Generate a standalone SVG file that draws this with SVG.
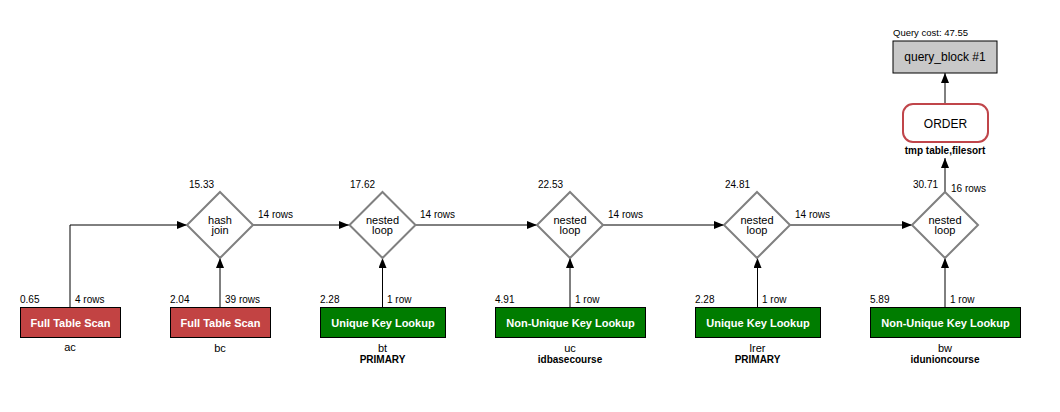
<svg xmlns="http://www.w3.org/2000/svg" width="1060" height="412" viewBox="0 0 1060 412">
<style>
text{font-family:"Liberation Sans",Arial,sans-serif;fill:#000}
.s{font-size:10px}
.sb{font-size:10px;font-weight:bold}
.c{text-anchor:middle}
.bt{font-size:11px;font-weight:bold;fill:#fff;text-anchor:middle}
.dt{font-size:11px;text-anchor:middle}
.red{fill:#c24343;stroke:#000;stroke-width:1}
.grn{fill:#007c00;stroke:#000;stroke-width:1}
.dia{fill:#fff;stroke:#808080;stroke-width:2}
.ln{fill:none;stroke:#000;stroke-width:1}
</style>
<defs>
<marker id="ah" viewBox="0 0 10 8" refX="10" refY="4" markerWidth="10" markerHeight="8" markerUnits="userSpaceOnUse" orient="auto">
<path d="M0,0 L10,4 L0,8 z" fill="#000"/>
</marker>
</defs>
<g id="connectors">
<polyline class="ln" points="70,307 70,225 187,225" marker-end="url(#ah)"/>
<line class="ln" x1="220" y1="307" x2="220" y2="258" marker-end="url(#ah)"/>
<line class="ln" x1="253" y1="225" x2="349" y2="225" marker-end="url(#ah)"/>
<line class="ln" x1="382.5" y1="307" x2="382.5" y2="258" marker-end="url(#ah)"/>
<line class="ln" x1="415" y1="225" x2="537" y2="225" marker-end="url(#ah)"/>
<line class="ln" x1="570" y1="307" x2="570" y2="258" marker-end="url(#ah)"/>
<line class="ln" x1="603" y1="225" x2="724" y2="225" marker-end="url(#ah)"/>
<line class="ln" x1="757.5" y1="307" x2="757.5" y2="258" marker-end="url(#ah)"/>
<line class="ln" x1="790" y1="225" x2="912" y2="225" marker-end="url(#ah)"/>
<line class="ln" x1="945" y1="307" x2="945" y2="258" marker-end="url(#ah)"/>
<line class="ln" x1="945" y1="192" x2="945" y2="158" marker-end="url(#ah)"/>
<line class="ln" x1="945" y1="104" x2="945" y2="73" marker-end="url(#ah)"/>
<text class="s" x="75" y="303">4 rows</text>
<text class="s" x="225" y="303">39 rows</text>
<text class="s" x="387" y="303">1 row</text>
<text class="s" x="575" y="303">1 row</text>
<text class="s" x="762" y="303">1 row</text>
<text class="s" x="950" y="303">1 row</text>
<text class="s" x="258" y="218">14 rows</text>
<text class="s" x="420" y="218">14 rows</text>
<text class="s" x="608" y="218">14 rows</text>
<text class="s" x="795" y="218">14 rows</text>
<text class="s" x="951" y="192">16 rows</text>
</g>
<g id="query_block">
<text class="s" x="893" y="36" style="font-size:9.5px">Query cost: 47.55</text>
<rect x="893" y="41" width="104" height="32" fill="#c8c8c8" stroke="#000" stroke-width="1"/>
<text class="c" x="945" y="61" style="font-size:12px">query_block #1</text>
</g>
<g id="order">
<rect x="903" y="104" width="85" height="38" rx="10" ry="10" fill="#fff" stroke="#c0454a" stroke-width="2"/>
<text class="c" x="945.5" y="128" style="font-size:12px">ORDER</text>
<text class="sb c" x="945" y="154">tmp table,filesort</text>
</g>
<g id="hash_join">
<text class="s" x="189" y="188">15.33</text>
<polygon class="dia" points="220,192 253,225 220,258 187,225"/>
<text class="dt" x="220" y="224">hash</text>
<text class="dt" x="220" y="234">join</text>
</g>
<g id="nested_loop_1">
<text class="s" x="350" y="188">17.62</text>
<polygon class="dia" points="382.5,192 415.5,225 382.5,258 349.5,225"/>
<text class="dt" x="382.5" y="224">nested</text>
<text class="dt" x="382.5" y="234">loop</text>
</g>
<g id="nested_loop_2">
<text class="s" x="538" y="188">22.53</text>
<polygon class="dia" points="570,192 603,225 570,258 537,225"/>
<text class="dt" x="570" y="224">nested</text>
<text class="dt" x="570" y="234">loop</text>
</g>
<g id="nested_loop_3">
<text class="s" x="725" y="188">24.81</text>
<polygon class="dia" points="757,192 790,225 757,258 724,225"/>
<text class="dt" x="757" y="224">nested</text>
<text class="dt" x="757" y="234">loop</text>
</g>
<g id="nested_loop_4">
<text class="s" x="913" y="188">30.71</text>
<polygon class="dia" points="945,192 978,225 945,258 912,225"/>
<text class="dt" x="945" y="224">nested</text>
<text class="dt" x="945" y="234">loop</text>
</g>
<g id="table_ac">
<text class="s" x="20" y="303">0.65</text>
<rect class="red" x="20.5" y="307.5" width="100" height="30"/>
<text class="bt" x="70.5" y="326.5">Full Table Scan</text>
<text class="s c" x="70" y="351" style="font-size:11px">ac</text>
</g>
<g id="table_bc">
<text class="s" x="170" y="303">2.04</text>
<rect class="red" x="170.5" y="307.5" width="100" height="30"/>
<text class="bt" x="220.5" y="326.5">Full Table Scan</text>
<text class="s c" x="220" y="352" style="font-size:11px">bc</text>
</g>
<g id="table_bt">
<text class="s" x="320" y="303">2.28</text>
<rect class="grn" x="320.5" y="307.5" width="125" height="30"/>
<text class="bt" x="383" y="326.5">Unique Key Lookup</text>
<text class="s c" x="382.5" y="352" style="font-size:11px">bt</text>
<text class="sb c" x="382.5" y="363">PRIMARY</text>
</g>
<g id="table_uc">
<text class="s" x="495" y="303">4.91</text>
<rect class="grn" x="495.5" y="307.5" width="150" height="30"/>
<text class="bt" x="570.5" y="326.5">Non-Unique Key Lookup</text>
<text class="s c" x="570" y="352" style="font-size:11px">uc</text>
<text class="sb c" x="570" y="363">idbasecourse</text>
</g>
<g id="table_lrer">
<text class="s" x="695" y="303">2.28</text>
<rect class="grn" x="695.5" y="307.5" width="125" height="30"/>
<text class="bt" x="758" y="326.5">Unique Key Lookup</text>
<text class="s c" x="757.5" y="352" style="font-size:11px">lrer</text>
<text class="sb c" x="757.5" y="363">PRIMARY</text>
</g>
<g id="table_bw">
<text class="s" x="870" y="303">5.89</text>
<rect class="grn" x="870.5" y="307.5" width="150" height="30"/>
<text class="bt" x="945.5" y="326.5">Non-Unique Key Lookup</text>
<text class="s c" x="945" y="352" style="font-size:11px">bw</text>
<text class="sb c" x="945" y="363">idunioncourse</text>
</g>
</svg>
